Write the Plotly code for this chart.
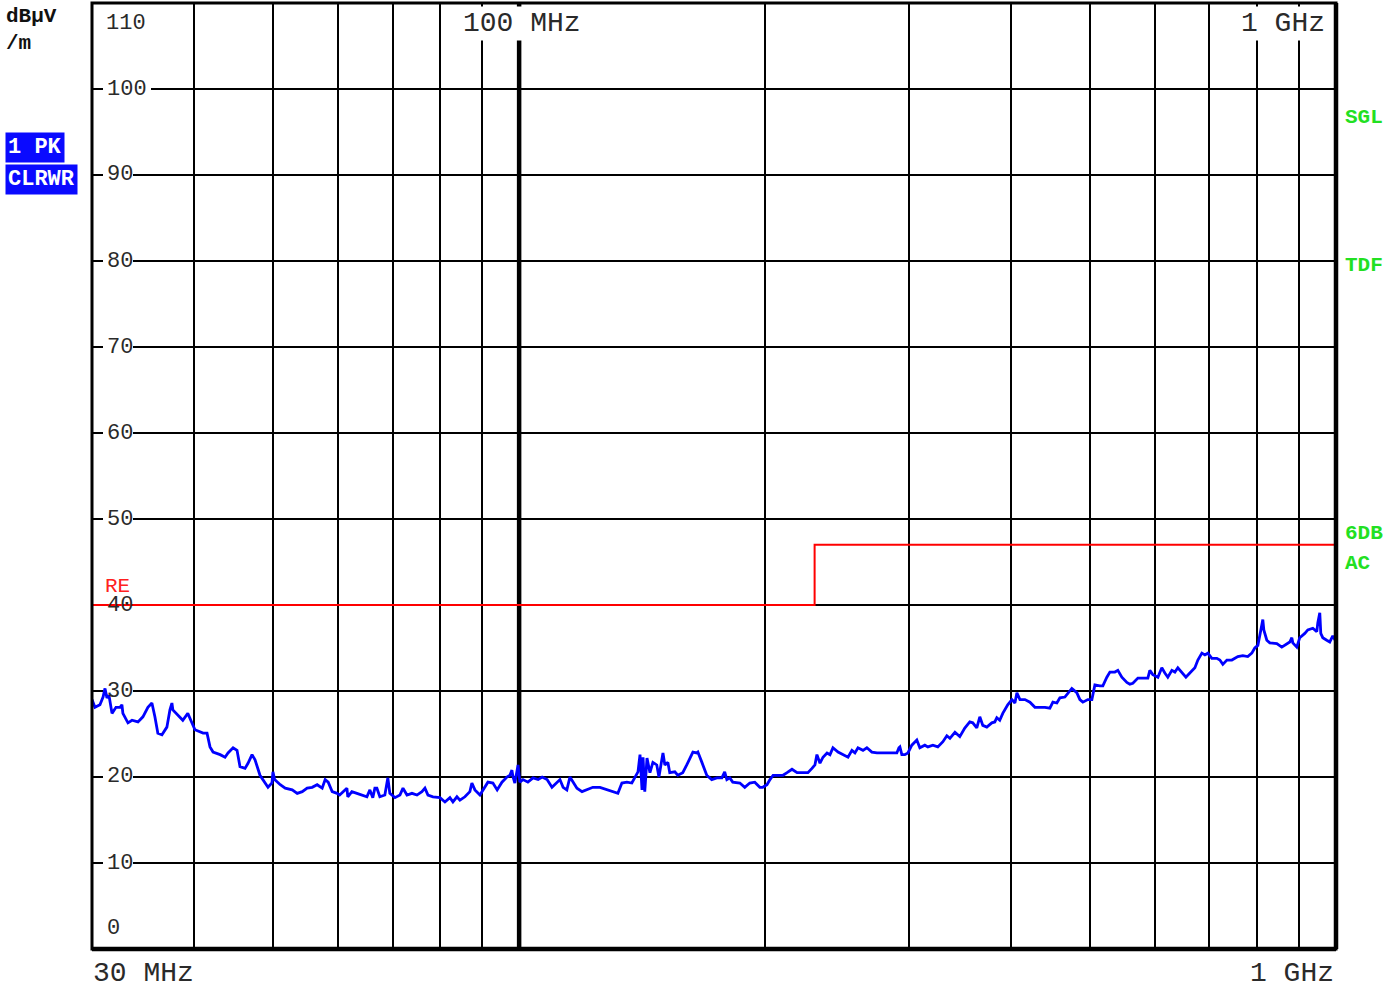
import numpy as np
import plotly.graph_objects as go

# ---------------- data ----------------
FREQ_MHZ = [
    30.0, 30.25, 30.68, 30.95, 31.12, 31.29, 31.47, 31.74, 32.10, 32.46, 32.64, 32.73,
    33.20, 33.58, 34.15, 34.63, 35.12, 35.52, 35.82, 36.12, 36.54, 37.05, 37.37, 37.58,
    37.68, 38.21, 38.75, 39.30, 39.75, 40.1, 41.03, 41.49, 41.84, 42.20, 43.05, 43.65,
    44.02, 44.65, 45.15, 45.53, 46.18, 46.57, 47.10, 47.50, 48.17, 48.85, 49.27, 49.82,
    49.96, 50.2, 51.0, 51.72, 52.75, 53.50, 54.26, 55.02, 55.80, 56.59, 57.40, 57.88,
    58.38, 59.04, 59.87, 60.3, 61.54, 61.7, 62.41, 63.30, 64.20, 65.11, 65.66, 66.2,
    66.59, 66.97, 67.53, 68.49, 69.07, 69.46, 70.47, 71.47, 72.08, 72.90, 73.93, 74.98,
    76.03, 76.68, 77.34, 78.44, 80.0, 81.13, 82.28, 82.98, 83.92, 84.63, 85.83, 87.04,
    87.53, 88.28, 89.54, 90.3, 91.58, 92.88, 94.0, 95.27, 96.62, 97.44, 97.99, 98.3,
    98.8, 99.7, 100.2, 101.1, 102.5, 104.0, 105.5, 106.7, 108.2, 109.7, 110.6, 112.2,
    113.2, 114.4, 115.4, 116.4, 117.7, 119.4, 121.1, 123.1, 125.6, 128.1, 130.3, 132.1,
    133.6, 135.5, 137.4, 138.6, 139.8, 140.6, 141.4, 141.8, 142.5, 143.4, 144.6, 145.8,
    147.4, 148.3, 149.5, 150.0, 150.8, 152.1, 152.9, 155.1, 156.4, 158.6, 160.4, 161.8,
    163.2, 165.0, 165.5, 167.4, 169.7, 172.1, 174.6, 177.1, 178.5, 179.6, 181.1, 182.6,
    186.3, 188.9, 191.6, 194.3, 197.1, 198.7, 201.1, 202.8, 204.6, 207.5, 210.4, 212.8,
    215.8, 218.9, 222.6, 225.7, 228.3, 230.2, 231.5, 233.5, 235.5, 238.2, 240.2, 242.2,
    245.7, 249.1, 252.7, 255.5, 257.7, 259.9, 263.6, 266.5, 270.3, 274.2, 282.0, 290.0,
    291.7, 292.5, 294.1, 296.6, 299.2, 302.5, 306.8, 309.4, 313.8, 316.5, 321.0, 325.5,
    330.2, 333.9, 336.8, 341.6, 346.3, 351.2, 356.2, 359.2, 363.3, 366.4, 369.5, 373.7,
    379.0, 382.2, 384.4, 387.6, 390.9, 396.4, 401.1, 404.5, 406.8, 410.3, 416.1, 422.0,
    428.0, 434.0, 440.2, 446.4, 450.2, 455.3, 459.2, 465.7, 474.9, 481.6, 485.8, 489.9,
    496.8, 502.5, 506.8, 514.0, 518.3, 524.2, 528.7, 536.2, 540.7, 546.8, 554.6, 559.3,
    564.0, 572.1, 580.2, 588.4, 591.7, 596.7, 605.3, 612.0, 617.3, 622.5, 629.6, 635.0,
    640.3, 647.6, 655.0, 662.3, 671.8, 677.5, 685.2, 691.0, 696.9, 704.7, 714.7, 720.8,
    726.9, 735.2, 745.6, 758.3, 769.0, 779.8, 788.7, 795.4, 802.3, 809.1, 813.6, 815.9,
    822.8, 829.8, 846.4, 858.3, 865.6, 877.9, 882.9, 885.4, 895.4, 902.9, 915.8, 923.6,
    936.7, 947.3, 950.0, 955.3, 958.0, 963.4, 974.3, 982.6, 990.9, 996.5, 1000.0,
]
LEVEL_DBUV = [
    29.0, 28.1, 28.4, 29.3, 30.3, 29.2, 29.5, 27.4, 28.1, 28.1, 28.4, 27.4,
    26.3, 26.6, 26.4, 27.0, 28.1, 28.6, 27.0, 25.1, 24.9, 25.8, 27.8, 28.6,
    27.8, 27.2, 26.6, 27.4, 26.4, 25.5, 25.1, 25.1, 23.5, 22.9, 22.6, 22.3,
    22.8, 23.4, 23.1, 21.2, 21.0, 21.6, 22.6, 22.0, 20.2, 19.3, 18.8, 19.3,
    20.6, 19.7, 19.1, 18.7, 18.5, 18.1, 18.3, 18.7, 18.8, 19.1, 18.7, 19.7,
    19.4, 18.3, 18.1, 17.9, 18.7, 17.7, 18.3, 18.1, 17.9, 17.7, 18.5, 17.6,
    18.7, 18.7, 17.7, 17.9, 19.9, 18.1, 17.6, 17.9, 18.7, 17.9, 18.1, 17.9,
    18.3, 18.7, 17.9, 17.7, 17.6, 17.1, 17.6, 17.1, 17.7, 17.3, 17.7, 18.3,
    19.3, 18.5, 17.9, 18.5, 19.4, 19.3, 18.5, 19.4, 20.0, 20.2, 20.8, 20.0,
    19.3, 21.4, 19.4, 19.7, 19.4, 19.9, 19.7, 20.0, 19.7, 18.8, 19.1, 19.7,
    18.8, 18.5, 20.0, 19.4, 18.7, 18.3, 18.5, 18.8, 18.8, 18.5, 18.3, 18.1,
    19.3, 19.4, 19.3, 19.9, 20.6, 22.6, 18.5, 22.3, 18.3, 22.2, 20.5, 21.7,
    21.4, 20.0, 22.0, 22.8, 21.4, 21.7, 20.5, 20.6, 20.2, 20.5, 21.4, 22.2,
    22.9, 22.8, 22.9, 21.7, 20.2, 19.7, 19.9, 19.9, 20.6, 19.7, 19.9, 19.4,
    19.3, 18.8, 19.3, 19.4, 18.8, 18.8, 19.1, 19.7, 20.2, 20.2, 20.2, 20.5,
    20.9, 20.5, 20.5, 20.5, 21.0, 21.4, 22.6, 21.6, 22.3, 22.8, 22.6, 23.4,
    22.9, 22.6, 22.3, 23.1, 22.8, 23.4, 23.1, 23.4, 22.9, 22.8, 22.8, 22.8,
    23.4, 23.5, 22.6, 22.6, 22.8, 23.7, 24.3, 23.4, 23.7, 23.5, 23.7, 23.5,
    24.1, 24.8, 24.5, 25.2, 24.7, 25.7, 26.4, 26.3, 25.7, 27.0, 26.0, 25.8,
    26.3, 26.4, 26.9, 26.6, 27.4, 28.4, 29.0, 28.6, 29.8, 29.0, 29.0, 28.7,
    28.1, 28.1, 28.1, 28.0, 28.7, 28.6, 29.2, 29.3, 30.3, 29.8, 29.0, 28.7,
    29.0, 29.0, 30.7, 30.6, 30.6, 31.6, 32.2, 32.2, 32.4, 31.6, 31.0, 30.8,
    30.9, 31.5, 31.5, 31.5, 32.4, 31.9, 31.6, 32.7, 32.1, 31.6, 32.4, 32.2,
    32.7, 32.2, 31.6, 32.1, 32.7, 33.6, 34.4, 34.2, 34.4, 33.8, 33.8, 33.6,
    33.1, 33.6, 33.6, 34.0, 34.1, 34.0, 34.4, 35.0, 35.3, 37.1, 38.3, 37.1,
    35.9, 35.6, 35.5, 35.1, 35.3, 35.7, 36.2, 35.6, 35.1, 36.2, 36.7, 37.1,
    37.3, 36.9, 37.9, 39.1, 36.7, 36.2, 35.9, 35.7, 36.4, 36.0, 36.2,
]
LIMIT_FREQ_MHZ = [30, 230, 1000]
LIMIT_DBUV = [40, 47, 47]
GRID_MHZ = [40, 50, 60, 70, 80, 90, 100, 200, 300, 400, 500, 600, 700, 800, 900]
Y_TICKS = [10, 20, 30, 40, 50, 60, 70, 80, 90, 100]
F_MIN, F_MAX = 30, 1000
Y_MIN, Y_MAX = 0, 110
MARKER_MHZ = 100  # thick decade line

# ---------------- geometry ----------------
W, H = 1399, 990
L, R, T, B = 92, 1336, 3, 949


def P(x, y):
    return (x - L) / (R - L), (B - y) / (B - T)


def fx(f):
    return (np.log10(f) - np.log10(F_MIN)) / (np.log10(F_MAX) - np.log10(F_MIN))


MONO = "Liberation Mono"
GRID_C = "#000000"
TXT_C = "#2a2a2a"
GREEN = "#22e022"
BLUE_BOX = "#0a0aff"

fig = go.Figure()

fig.add_trace(go.Scatter(
    x=LIMIT_FREQ_MHZ, y=LIMIT_DBUV, mode="lines",
    line=dict(color="#ff0000", width=2, shape="hv"),
    hoverinfo="skip", showlegend=False,
))
fig.add_trace(go.Scatter(
    x=FREQ_MHZ, y=LEVEL_DBUV, mode="lines",
    line=dict(color="#0000ff", width=2.8),
    showlegend=False,
))

shapes = []
# horizontal gridlines with a gap for the inline labels
for v in Y_TICKS:
    gap_end = 151 if v >= 100 else 133
    shapes.append(dict(type="line", xref="paper", yref="y", x0=0, x1=P(103, 0)[0], y0=v, y1=v,
                       line=dict(color=GRID_C, width=2), layer="below"))
    shapes.append(dict(type="line", xref="paper", yref="y", x0=P(gap_end, 0)[0], x1=1, y0=v, y1=v,
                       line=dict(color=GRID_C, width=2), layer="below"))
# thick 100 MHz line
xm = fx(MARKER_MHZ)
shapes.append(dict(type="line", xref="paper", yref="paper", x0=xm, x1=xm, y0=0, y1=1,
                   line=dict(color=GRID_C, width=4.5), layer="below"))
# frame
shapes.append(dict(type="rect", xref="paper", yref="paper", x0=0, x1=1, y0=0, y1=1,
                   line=dict(color=GRID_C, width=3), layer="above"))
shapes.append(dict(type="line", xref="paper", yref="paper", x0=1, x1=1, y0=0, y1=1,
                   line=dict(color=GRID_C, width=4.5), layer="above"))
shapes.append(dict(type="line", xref="paper", yref="paper", x0=0, x1=1, y0=0, y1=0,
                   line=dict(color=GRID_C, width=4.5), layer="above"))

ann = []


def text(s, x, y, size, color=TXT_C, bg=None, pad=0, xanchor="left"):
    px, py = P(x, y)
    d = dict(text=s, xref="paper", yref="paper", x=px, y=py, xanchor=xanchor, yanchor="middle",
             showarrow=False, font=dict(family=MONO, size=size, color=color), borderpad=pad)
    if bg:
        d["bgcolor"] = bg
    ann.append(d)


for v in Y_TICKS:
    text(str(v), 106, B - (v - Y_MIN) * (B - T) / (Y_MAX - Y_MIN), 22)
text(str(Y_MAX), 105, 23, 22)
text(str(Y_MIN), 106, 928, 22)

text("100 MHz", 461, 23, 28, bg="white", pad=1)
text("1 GHz", 1239, 23, 28, bg="white", pad=1)
text("30 MHz", 92, 973, 28)
text("1 GHz", 1249, 973, 28)

text("RE", 104, 586, 21, color="#ff2020")

text("<b>dBµV</b>", 5, 16, 21, color="#111111")
text("<b>/m</b>", 5, 43, 21, color="#111111")
text("<b>1 PK</b>", 5, 148, 22, color="white", bg=BLUE_BOX, pad=2)
text("<b>CLRWR</b>", 5, 179, 22, color="white", bg=BLUE_BOX, pad=2)

for s, yy in [("SGL", 117), ("TDF", 265), ("6DB", 533), ("AC", 563)]:
    text("<b>" + s + "</b>", 1344, yy, 21, color=GREEN)

fig.update_layout(
    width=W, height=H,
    margin=dict(l=L, r=W - R, t=T, b=H - B, pad=0),
    paper_bgcolor="white", plot_bgcolor="white",
    xaxis=dict(type="log", range=[np.log10(F_MIN), np.log10(F_MAX)],
               tickvals=GRID_MHZ, showticklabels=False, ticks="",
               showgrid=True, gridcolor=GRID_C, gridwidth=2,
               zeroline=False, showline=False, fixedrange=True),
    yaxis=dict(range=[Y_MIN, Y_MAX], showgrid=False, showticklabels=False, ticks="",
               zeroline=False, showline=False, fixedrange=True),
    shapes=shapes, annotations=ann,
    hovermode=False,
)

fig.write_html("out.html", config={"displayModeBar": False},
               post_script="document.body.style.margin='0';document.body.style.overflow='hidden';")
